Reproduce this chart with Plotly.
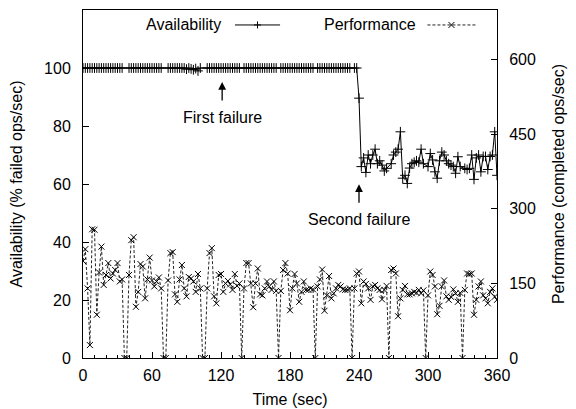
import plotly.graph_objects as go

# time axis (sec), one sample every 2 s
time_sec = list(range(0, 361, 2))

# Performance (completed ops/sec)
performance = [
    195, 219, 140, 26, 259, 258, 87, 172, 224, 147, 167, 191, 160, 170, 177, 191, 154, 158,
    0, 0,
    167, 237, 243, 103, 133, 189, 184, 120, 158, 202, 156, 144, 154, 162, 140,
    0, 0,
    156, 211, 213, 128, 113, 158, 187, 140, 124, 163, 160, 154, 133, 169, 140,
    0, 0,
    140, 211, 221, 124, 110, 167, 169, 133, 150, 155, 148, 137, 169, 145, 150,
    0,
    140, 191, 191, 150, 102, 150, 180, 128, 126, 140, 154, 144, 137, 154, 135,
    0,
    135, 177, 191, 170, 96, 140, 169, 150, 113, 133, 154, 137, 137, 140, 138,
    0,
    144, 158, 178, 95, 126, 165, 120, 130, 140, 147, 144, 138, 137, 137, 140,
    0,
    140, 170, 174, 110, 154, 149, 140, 117, 144, 147, 140, 137, 118, 137, 145,
    0,
    177, 180, 170, 84, 120, 137, 145, 128, 128, 130, 133, 131, 137, 130, 136,
    0,
    126, 174, 167, 144, 88, 105, 144, 156, 124, 117, 123, 138, 130, 113, 131,
    0,
    137, 170, 169, 170, 87, 117, 144, 154, 126, 120, 110, 133, 140, 123, 117,
]

# Availability (%), None where no sample was taken (perf = 0)
N = None
availability = [
    100, 100, 100, 100, 100, 100, 100, 100, 100, 100, 100, 100, 100, 100, 100, 100, 100, 100,
    N, N,
    100, 100, 100, 100, 100, 100, 100, 100, 100, 100, 100, 100, 100, 100, 100,
    N, N,
    100, 100, 100, 100, 100, 100, 100, 100, 99.6, 100, 99.7, 99.4, 99.8, 99.0, 100,
    N, N,
    100, 100, 100, 100, 100, 100, 100, 100, 100, 100, 100, 100, 100, 100, 100,
    N,
    100, 100, 100, 100, 100, 100, 100, 100, 100, 100, 100, 100, 100, 100, 100,
    N,
    100, 100, 100, 100, 100, 100, 100, 100, 100, 100, 100, 100, 100, 100, 100,
    N,
    100, 100, 100, 100, 100, 100, 100, 100, 100, 100, 100, 100, 100, 100, 100,
    N,
    100, 100, 89.6, 66, 69, 64, 70, 67, 70, 72, 67, 68, 66.5, 64.5, 65.4,
    N,
    67, 70, 71, 72, 78, 62, 63, 60.2, 65.5, 67, 67.5, 68, 67.5, 72, 67,
    N,
    66, 70.5, 68.3, 64.2, 62, 68, 71, 70, 68, 67, 66.5, 66, 63.7, 69.4, 66,
    N,
    65.4, 65, 65.4, 70, 61.6, 69, 70, 64.2, 69.5, 69.5, 65, 69.5, 70, 78, 63,
]

x_ticks = [0, 60, 120, 180, 240, 300, 360]
left_ticks = [0, 20, 40, 60, 80, 100]
right_ticks = [0, 150, 300, 450, 600]

FONT = "Liberation Sans, Arial, Helvetica, sans-serif"
FS = 16

fig = go.Figure()
fig.add_trace(go.Scatter(
    x=time_sec, y=availability, mode="lines+markers", name="Availability",
    connectgaps=True,
    line=dict(color="black", width=1),
    marker=dict(symbol="cross-thin", size=7, line=dict(color="black", width=1)),
    showlegend=False,
))
fig.add_trace(go.Scatter(
    x=time_sec, y=performance, mode="lines+markers", name="Performance",
    yaxis="y2",
    line=dict(color="#222222", width=1, dash="3px,2px"),
    marker=dict(symbol="x-thin", size=6, line=dict(color="black", width=1)),
    showlegend=False,
))

axis_common = dict(
    showline=True, linecolor="black", linewidth=1, ticks="inside", ticklen=6,
    tickcolor="black", showgrid=False, zeroline=False, automargin=False,
    tickfont=dict(family=FONT, size=FS, color="black"),
)

# the page body adds an 8px offset; margins compensate for it
fig.update_layout(
    width=576, height=409,
    margin=dict(l=75, r=87, t=2, b=59),
    paper_bgcolor="white", plot_bgcolor="white",
    font=dict(family=FONT, size=FS, color="black"),
    xaxis=dict(
        range=[0, 360], tickvals=x_ticks, mirror=True,
        minor=dict(dtick=10, ticklen=3, ticks="inside", tickcolor="black"),
        ticklabelstandoff=3,
        title=dict(text="Time (sec)", standoff=10, font=dict(family=FONT, size=FS)),
        **axis_common,
    ),
    yaxis=dict(
        range=[0, 120], tickvals=left_ticks, mirror=True,
        ticklabelstandoff=8,
        title=dict(text="Availability (% failed ops/sec)", standoff=19, font=dict(family=FONT, size=FS)),
        **axis_common,
    ),
    yaxis2=dict(
        range=[0, 700], tickvals=right_ticks, overlaying="y", side="right",
        ticklabelstandoff=8,
        title=dict(text="Performance (completed ops/sec)", standoff=17, font=dict(family=FONT, size=FS)),
        **axis_common,
    ),
)

# annotations: failure markers
fig.add_annotation(x=121, y=95.2, ax=121, ay=88.3, xref="x", yref="y", axref="x", ayref="y",
                   text="", showarrow=True, arrowhead=2, arrowsize=1.2, arrowwidth=1.3, arrowcolor="black")
fig.add_annotation(x=121, y=82.8, xref="x", yref="y", text="First failure", showarrow=False,
                   font=dict(family=FONT, size=FS))
fig.add_annotation(x=240, y=59.9, ax=240, ay=53.0, xref="x", yref="y", axref="x", ayref="y",
                   text="", showarrow=True, arrowhead=2, arrowsize=1.2, arrowwidth=1.3, arrowcolor="black")
fig.add_annotation(x=240, y=47.8, xref="x", yref="y", text="Second failure", showarrow=False,
                   font=dict(family=FONT, size=FS))

# legend (gnuplot style: text then sample)
PW, PH = 414.0, 348.0
ly = 0.957
fig.add_annotation(x=0.338, y=ly, xref="paper", yref="paper", text="Availability", showarrow=False,
                   xanchor="right", yanchor="middle", font=dict(family=FONT, size=FS))
fig.add_shape(type="line", xref="paper", yref="paper", x0=0.367, x1=0.476, y0=ly, y1=ly,
              line=dict(color="black", width=1))
fig.add_annotation(x=0.808, y=ly, xref="paper", yref="paper", text="Performance", showarrow=False,
                   xanchor="right", yanchor="middle", font=dict(family=FONT, size=FS))
fig.add_shape(type="line", xref="paper", yref="paper", x0=0.832, x1=0.948, y0=ly, y1=ly,
              line=dict(color="#222222", width=1, dash="3px,2px"))
# legend marker glyphs (+ and x)
cx, d = 0.4215, 3.5
fig.add_shape(type="path", xref="paper", yref="paper",
              path=f"M {cx - d/PW} {ly} L {cx + d/PW} {ly} M {cx} {ly - d/PH} L {cx} {ly + d/PH}",
              line=dict(color="black", width=1))
cx2, d2 = 0.890, 3
fig.add_shape(type="path", xref="paper", yref="paper",
              path=(f"M {cx2 - d2/PW} {ly - d2/PH} L {cx2 + d2/PW} {ly + d2/PH} "
                    f"M {cx2 - d2/PW} {ly + d2/PH} L {cx2 + d2/PW} {ly - d2/PH}"),
              line=dict(color="black", width=1))

fig.write_html("out.html")
